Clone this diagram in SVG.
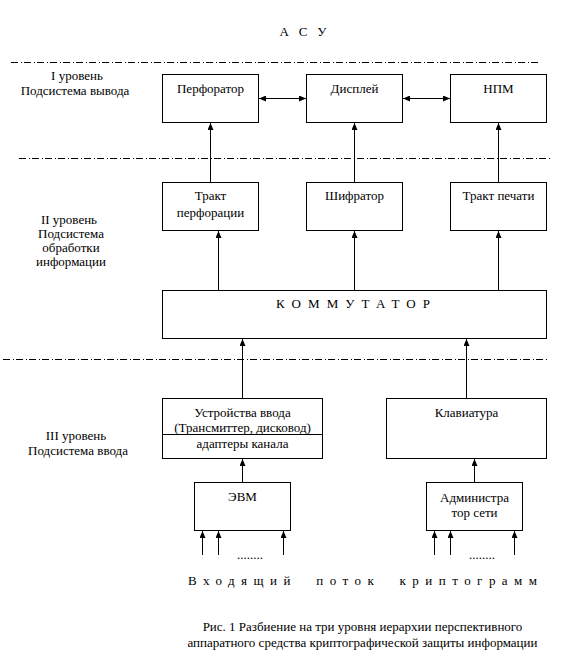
<svg xmlns="http://www.w3.org/2000/svg" width="574" height="666" viewBox="0 0 574 666">
<style>
  .box { fill: #fff; stroke: #000; stroke-width: 1; }
  .t { font-family: 'Liberation Serif', 'DejaVu Serif', serif; font-size: 13px; fill: #000; }
  .c { text-anchor: middle; }
  .dash { stroke: #000; stroke-width: 1; stroke-dasharray: 7 3 1 2; fill: none; }
  .ln { stroke: #000; stroke-width: 1; fill: none; }
  .arr { marker-end: url(#ah); }
  .arr2 { marker-start: url(#ah); marker-end: url(#ah); }
</style>
<defs>
  <marker id="ah" markerUnits="userSpaceOnUse" markerWidth="7" markerHeight="6" refX="7" refY="3" orient="auto-start-reverse">
    <path d="M0,0 L7,3 L0,6 z" fill="#000"/>
  </marker>
</defs>
<rect width="574" height="666" fill="#fff"/>

<text class="t c" x="303" y="36" xml:space="preserve">А   С   У</text>

<g id="levels">
  <line class="dash" x1="11" y1="62.5" x2="538" y2="62.5"/>
  <line class="dash" x1="19" y1="158.5" x2="552" y2="158.5"/>
  <line class="dash" x1="3" y1="359.5" x2="548" y2="359.5"/>
</g>

<g id="label1">
  <text class="t c" x="77" y="80">I уровень</text>
  <text class="t c" x="75" y="95">Подсистема вывода</text>
</g>
<g id="label2">
  <text class="t c" x="69" y="224">II уровень</text>
  <text class="t c" x="71" y="238">Подсистема</text>
  <text class="t c" x="71" y="252">обработки</text>
  <text class="t c" x="71" y="266">информации</text>
</g>
<g id="label3">
  <text class="t c" x="76" y="440">III уровень</text>
  <text class="t c" x="78" y="455">Подсистема ввода</text>
</g>

<g id="perforator">
  <rect class="box" x="162.5" y="74.5" width="96" height="48"/>
  <text class="t c" x="210.5" y="93">Перфоратор</text>
</g>
<g id="display">
  <rect class="box" x="306.5" y="74.5" width="96" height="48"/>
  <text class="t c" x="354.5" y="93">Дисплей</text>
</g>
<g id="npm">
  <rect class="box" x="450.5" y="74.5" width="96" height="48"/>
  <text class="t c" x="498.5" y="93">НПМ</text>
</g>

<g id="trakt-perf">
  <rect class="box" x="162.5" y="182.5" width="96" height="48"/>
  <text class="t c" x="210.5" y="200">Тракт</text>
  <text class="t c" x="210.5" y="217">перфорации</text>
</g>
<g id="shifrator">
  <rect class="box" x="306.5" y="182.5" width="96" height="48"/>
  <text class="t c" x="354.5" y="200">Шифратор</text>
</g>
<g id="trakt-pech">
  <rect class="box" x="450.5" y="182.5" width="96" height="48"/>
  <text class="t c" x="498.5" y="200">Тракт печати</text>
</g>

<g id="kommutator">
  <rect class="box" x="162.5" y="290.5" width="384" height="48"/>
  <text class="t c" x="353" y="308" textLength="154" lengthAdjust="spacing">КОММУТАТОР</text>
</g>

<g id="ustroystva">
  <rect class="box" x="162.5" y="398.5" width="160" height="60"/>
  <line class="ln" x1="162.5" y1="434.5" x2="322.5" y2="434.5"/>
  <text class="t c" x="242.5" y="417">Устройства ввода</text>
  <text class="t c" x="242.5" y="432">(Трансмиттер, дисковод)</text>
  <text class="t c" x="242.5" y="448">адаптеры канала</text>
</g>
<g id="klaviatura">
  <rect class="box" x="386.5" y="398.5" width="160" height="60"/>
  <text class="t c" x="466.5" y="417">Клавиатура</text>
</g>

<g id="evm">
  <rect class="box" x="194.5" y="482.5" width="96" height="48"/>
  <text class="t c" x="242.5" y="501">ЭВМ</text>
</g>
<g id="admin">
  <rect class="box" x="426.5" y="482.5" width="96" height="48"/>
  <text class="t c" x="474.5" y="502">Администра</text>
  <text class="t c" x="474.5" y="517">тор сети</text>
</g>

<g id="connectors">
  <line class="ln arr2" x1="259" y1="98.5" x2="306" y2="98.5"/>
  <line class="ln arr2" x1="403" y1="98.5" x2="450" y2="98.5"/>
  <line class="ln arr" x1="210.5" y1="182" x2="210.5" y2="123"/>
  <line class="ln arr" x1="354.5" y1="182" x2="354.5" y2="123"/>
  <line class="ln arr" x1="498.5" y1="182" x2="498.5" y2="123"/>
  <line class="ln arr" x1="218.5" y1="290" x2="218.5" y2="231"/>
  <line class="ln arr" x1="354.5" y1="290" x2="354.5" y2="231"/>
  <line class="ln arr" x1="498.5" y1="290" x2="498.5" y2="231"/>
  <line class="ln arr" x1="242.5" y1="398" x2="242.5" y2="339"/>
  <line class="ln arr" x1="466.5" y1="398" x2="466.5" y2="339"/>
  <line class="ln arr" x1="242.5" y1="482" x2="242.5" y2="459"/>
  <line class="ln arr" x1="474.5" y1="482" x2="474.5" y2="459"/>
  <line class="ln arr" x1="202.5" y1="555" x2="202.5" y2="531"/>
  <line class="ln arr" x1="218.5" y1="555" x2="218.5" y2="531"/>
  <line class="ln arr" x1="283.5" y1="555" x2="283.5" y2="531"/>
  <line class="ln arr" x1="434.5" y1="555" x2="434.5" y2="531"/>
  <line class="ln arr" x1="450.5" y1="555" x2="450.5" y2="531"/>
  <line class="ln arr" x1="514.5" y1="555" x2="514.5" y2="531"/>
</g>

<text class="t" x="237" y="559" font-size="10">........</text>
<text class="t" x="469" y="559" font-size="10">........</text>

<text class="t" x="188" y="585" textLength="349" lengthAdjust="spacing" xml:space="preserve">Входящий  поток  криптограмм</text>

<text class="t c" x="362.5" y="631">Рис. 1 Разбиение на три уровня иерархии перспективного</text>
<text class="t c" x="362.5" y="647">аппаратного средства криптографической защиты информации</text>
</svg>
